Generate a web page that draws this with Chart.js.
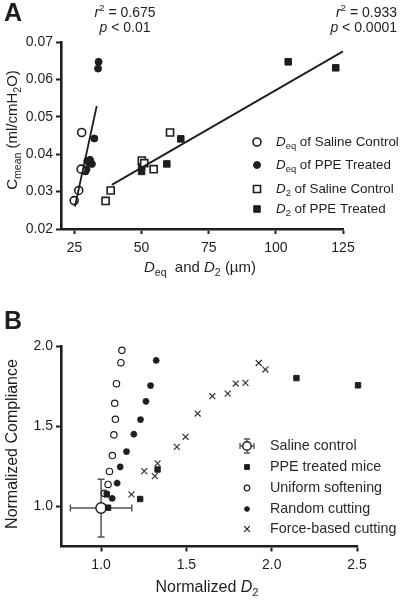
<!DOCTYPE html>
<html>
<head>
<meta charset="utf-8">
<script src="https://cdn.jsdelivr.net/npm/chart.js@4.4.1/dist/chart.umd.min.js"></script>
<style>
  body { margin: 0; background: #fff; }
  #wrap { position: relative; width: 402px; height: 601px; }
  #wrap canvas { position: absolute; left: 0; }
</style>
</head>
<body>
<div id="wrap">
  <canvas id="chartA" width="402" height="300" style="top:0"></canvas>
  <canvas id="chartB" width="402" height="301" style="top:300px"></canvas>
</div>
<script>
// ---- panel A data ----
const deqSalineX = [24.9, 26.6, 27.5, 27.7];
const deqSalineY = [0.0276, 0.0303, 0.0360, 0.0458];
const deqPpeX = [34.0, 33.8, 32.4, 29.1, 29.8, 30.6, 31.5, 30.8, 29.5];
const deqPpeY = [0.0647, 0.0629, 0.0442, 0.0354, 0.0382, 0.0378, 0.0374, 0.0385, 0.0360];
const d2SalineX = [36.6, 38.5, 50.1, 51.0, 54.5, 60.6];
const d2SalineY = [0.0275, 0.0303, 0.0383, 0.0376, 0.0360, 0.0458];
const d2PpeX = [50.0, 50.0, 59.4, 64.6, 104.6, 122.3];
const d2PpeY = [0.0354, 0.0367, 0.0374, 0.0441, 0.0647, 0.0631];
const fitDeqX = [25.2, 33.3];
const fitDeqY = [0.0260, 0.0529];
const fitD2X = [38.9, 125];
const fitD2Y = [0.0318, 0.0675];
const xTicksA = [25, 50, 75, 100, 125];
const yTicksA = [0.02, 0.03, 0.04, 0.05, 0.06, 0.07];

// ---- panel B data ----
const salineX = [1.0];
const salineY = [0.99];
const salineXErr = [0.18];
const salineYErr = [0.18];
const ppeX = [1.033, 1.041, 1.229, 1.331, 2.145, 2.506];
const ppeY = [1.075, 0.992, 1.046, 1.230, 1.800, 1.755];
const uniformX = [1.020, 1.041, 1.049, 1.066, 1.075, 1.084, 1.080, 1.090, 1.116, 1.122];
const uniformY = [1.081, 1.137, 1.218, 1.317, 1.446, 1.543, 1.643, 1.765, 1.896, 1.973];
const randomX = [1.065, 1.094, 1.112, 1.149, 1.192, 1.231, 1.263, 1.290, 1.323];
const randomY = [1.050, 1.145, 1.247, 1.342, 1.450, 1.541, 1.655, 1.753, 1.910];
const forceX = [1.178, 1.253, 1.315, 1.331, 1.444, 1.495, 1.566, 1.652, 1.742, 1.789, 1.846, 1.924, 1.963];
const forceY = [1.075, 1.220, 1.189, 1.268, 1.371, 1.434, 1.579, 1.687, 1.703, 1.766, 1.770, 1.894, 1.853];
const xTicksB = [1.0, 1.5, 2.0, 2.5];
const yTicksB = [1.0, 1.5, 2.0];

const FONT = '"Liberation Sans", Arial, sans-serif';
const INK = '#1e1e1e';

const pts = (xs, ys) => xs.map((x, i) => ({ x: x, y: ys[i] }));

// draws text made of parts: {t, i (italic), sub, sup}
function drawRich(ctx, parts, x, y, size, align, color) {
    const fontOf = p => (p.i ? 'italic ' : '') + ((p.sub || p.sup) ? size * 0.7 : size) + 'px ' + FONT;
    let total = 0;
    parts.forEach(p => { ctx.font = fontOf(p); total += ctx.measureText(p.t).width; });
    let cx = align === 'center' ? x - total / 2 : align === 'right' ? x - total : x;
    ctx.fillStyle = color || INK;
    ctx.textBaseline = 'middle';
    ctx.textAlign = 'left';
    parts.forEach(p => {
        ctx.font = fontOf(p);
        const dy = p.sub ? size * 0.32 : p.sup ? -size * 0.35 : 0;
        ctx.fillText(p.t, cx, y + dy);
        cx += ctx.measureText(p.t).width;
    });
}

function drawMarker(ctx, style, x, y, r, fill, lw) {
    ctx.save();
    ctx.strokeStyle = INK;
    ctx.fillStyle = fill;
    ctx.lineWidth = lw;
    ctx.beginPath();
    if (style === 'circle') {
        ctx.arc(x, y, r, 0, Math.PI * 2);
        ctx.fill(); ctx.stroke();
    } else if (style === 'rect') {
        const s = Math.SQRT1_2 * r;
        ctx.rect(x - s, y - s, 2 * s, 2 * s);
        ctx.fill(); ctx.stroke();
    } else if (style === 'star') {
        for (let k = 0; k < 4; k++) {
            const a = k * Math.PI / 4;
            ctx.moveTo(x - Math.cos(a) * r, y - Math.sin(a) * r);
            ctx.lineTo(x + Math.cos(a) * r, y + Math.sin(a) * r);
        }
        ctx.stroke();
    } else if (style === 'crossRot') {
        const s = Math.SQRT1_2 * r;
        ctx.moveTo(x - s, y - s); ctx.lineTo(x + s, y + s);
        ctx.moveTo(x + s, y - s); ctx.lineTo(x - s, y + s);
        ctx.stroke();
    }
    ctx.restore();
}

function axisCommon(min, max, ticks, digits, pad) {
    return {
        type: 'linear',
        min: min,
        max: max,
        afterBuildTicks: s => { s.ticks = ticks.map(v => ({ value: v })); },
        ticks: {
            color: INK,
            font: { family: FONT, size: 14 },
            padding: pad,
            callback: v => digits == null ? String(v) : Number(v).toFixed(digits)
        },
        grid: { display: true, drawOnChartArea: false, drawTicks: true, tickLength: 5, tickWidth: 2, color: INK },
        border: { display: true, width: 2.6, color: INK }
    };
}

// ---------------- Panel A ----------------
const panelAText = {
    id: 'panelAText',
    afterDraw(chart) {
        const ctx = chart.ctx;
        ctx.save();
        ctx.fillStyle = INK;
        ctx.font = 'bold 25px ' + FONT;
        ctx.textBaseline = 'middle';
        ctx.fillText('A', 4, 14);
        drawRich(ctx, [{ t: 'r', i: true }, { t: '2', sup: true }, { t: ' = 0.675' }], 125, 13, 14, 'center');
        drawRich(ctx, [{ t: 'p', i: true }, { t: ' < 0.01' }], 125, 28, 14, 'center');
        drawRich(ctx, [{ t: 'r', i: true }, { t: '2', sup: true }, { t: ' = 0.933' }], 397, 13, 14, 'right');
        drawRich(ctx, [{ t: 'p', i: true }, { t: ' < 0.0001' }], 397, 28, 14, 'right');
        // axis titles
        drawRich(ctx, [{ t: 'D', i: true }, { t: 'eq', sub: true }, { t: '  and ' }, { t: 'D', i: true }, { t: '2', sub: true }, { t: ' (µm)' }], 200, 268, 15, 'center');
        ctx.save();
        ctx.translate(13, 130);
        ctx.rotate(-Math.PI / 2);
        drawRich(ctx, [{ t: 'C' }, { t: 'mean', sub: true }, { t: ' (ml/cmH' }, { t: '2', sub: true }, { t: 'O)' }], 0, 0, 15, 'center');
        ctx.restore();
        // legend
        const rows = [
            { s: 'circle', r: 4, f: '#fff', lw: 1.6, parts: [{ t: 'D', i: true }, { t: 'eq', sub: true }, { t: ' of Saline Control' }] },
            { s: 'circle', r: 3.5, f: INK, lw: 1, parts: [{ t: 'D', i: true }, { t: 'eq', sub: true }, { t: ' of PPE Treated' }] },
            { s: 'rect', r: 5, f: '#fff', lw: 1.6, parts: [{ t: 'D', i: true }, { t: '2', sub: true }, { t: ' of Saline Control' }] },
            { s: 'rect', r: 4.6, f: INK, lw: 1, parts: [{ t: 'D', i: true }, { t: '2', sub: true }, { t: ' of PPE Treated' }] }
        ];
        const ys = [142, 165, 189, 209];
        rows.forEach((row, i) => {
            drawMarker(ctx, row.s, 257, ys[i], row.r, row.f, row.lw);
            drawRich(ctx, row.parts, 276, ys[i], 13.4, 'left');
        });
        ctx.restore();
    }
};

new Chart(document.getElementById('chartA'), {
    type: 'scatter',
    data: {
        datasets: [
            { label: 'fit Deq', data: pts(fitDeqX, fitDeqY), showLine: true, pointRadius: 0, borderColor: INK, borderWidth: 1.8, clip: false },
            { label: 'fit D2', data: pts(fitD2X, fitD2Y), showLine: true, pointRadius: 0, borderColor: INK, borderWidth: 1.8, clip: false },
            { label: 'Deq of Saline Control', data: pts(deqSalineX, deqSalineY), pointStyle: 'circle', pointRadius: 4, borderWidth: 1.6, borderColor: INK, backgroundColor: '#fff', clip: false },
            { label: 'Deq of PPE Treated', data: pts(deqPpeX, deqPpeY), pointStyle: 'circle', pointRadius: 3.5, borderWidth: 1, borderColor: INK, backgroundColor: INK, clip: false },
            { label: 'D2 of Saline Control', data: pts(d2SalineX, d2SalineY), pointStyle: 'rect', pointRadius: 5, borderWidth: 1.6, borderColor: INK, backgroundColor: '#fff', clip: false },
            { label: 'D2 of PPE Treated', data: pts(d2PpeX, d2PpeY), pointStyle: 'rect', pointRadius: 4.6, borderWidth: 1, borderColor: INK, backgroundColor: INK, clip: false }
        ]
    },
    options: {
        responsive: false,
        animation: false,
        events: [],
        layout: { padding: { left: 0, right: 59, top: 42, bottom: 0 } },
        plugins: { legend: { display: false }, tooltip: { enabled: false } },
        scales: {
            x: Object.assign(axisCommon(20, 125, xTicksA, null, 6), { afterFit: s => { s.height = 71; } }),
            y: Object.assign(axisCommon(0.02, 0.07, yTicksA, 2, 3), { afterFit: s => { s.width = 61; } })
        }
    },
    plugins: [panelAText]
});

// ---------------- Panel B ----------------
const errorBars = {
    id: 'errorBars',
    beforeDatasetsDraw(chart) {
        const ctx = chart.ctx, xs = chart.scales.x, ys = chart.scales.y;
        ctx.save();
        ctx.strokeStyle = '#555';
        ctx.lineWidth = 1.5;
        salineX.forEach((v, i) => {
            const px = xs.getPixelForValue(v), py = ys.getPixelForValue(salineY[i]);
            const x0 = xs.getPixelForValue(v - salineXErr[i]), x1 = xs.getPixelForValue(v + salineXErr[i]);
            const y0 = ys.getPixelForValue(salineY[i] - salineYErr[i]), y1 = ys.getPixelForValue(salineY[i] + salineYErr[i]);
            ctx.beginPath();
            ctx.moveTo(x0, py); ctx.lineTo(x1, py);
            ctx.moveTo(x0, py - 3.5); ctx.lineTo(x0, py + 3.5);
            ctx.moveTo(x1, py - 3.5); ctx.lineTo(x1, py + 3.5);
            ctx.moveTo(px, y0); ctx.lineTo(px, y1);
            ctx.moveTo(px - 3.5, y0); ctx.lineTo(px + 3.5, y0);
            ctx.moveTo(px - 3.5, y1); ctx.lineTo(px + 3.5, y1);
            ctx.stroke();
        });
        ctx.restore();
    }
};

const panelBText = {
    id: 'panelBText',
    afterDraw(chart) {
        const ctx = chart.ctx;
        ctx.save();
        ctx.fillStyle = INK;
        ctx.font = 'bold 25px ' + FONT;
        ctx.textBaseline = 'middle';
        ctx.fillText('B', 4, 22);
        drawRich(ctx, [{ t: 'Normalized ' }, { t: 'D', i: true }, { t: '2', sub: true }], 207, 288, 16, 'center');
        ctx.save();
        ctx.translate(13, 144);
        ctx.rotate(-Math.PI / 2);
        drawRich(ctx, [{ t: 'Normalized Compliance' }], 0, 0, 16, 'center');
        ctx.restore();
        // legend
        const ys = [146, 167, 188, 209, 229];
        // saline control icon with error bars
        ctx.strokeStyle = '#555';
        ctx.lineWidth = 1.3;
        ctx.beginPath();
        ctx.moveTo(240, ys[0]); ctx.lineTo(254, ys[0]);
        ctx.moveTo(240, ys[0] - 3); ctx.lineTo(240, ys[0] + 3);
        ctx.moveTo(254, ys[0] - 3); ctx.lineTo(254, ys[0] + 3);
        ctx.moveTo(247, ys[0] - 7); ctx.lineTo(247, ys[0] + 7);
        ctx.moveTo(244, ys[0] - 7); ctx.lineTo(250, ys[0] - 7);
        ctx.moveTo(244, ys[0] + 7); ctx.lineTo(250, ys[0] + 7);
        ctx.stroke();
        drawMarker(ctx, 'circle', 247, ys[0], 4.2, '#fff', 1.4);
        drawMarker(ctx, 'rect', 247, ys[1], 3.4, INK, 1);
        drawMarker(ctx, 'circle', 247, ys[2], 2.8, '#fff', 1.2);
        drawMarker(ctx, 'star', 247, ys[3], 2.8, INK, 1.8);
        drawMarker(ctx, 'crossRot', 247, ys[4], 4, INK, 1.2);
        const labels = ['Saline control', 'PPE treated mice', 'Uniform softening', 'Random cutting', 'Force-based cutting'];
        labels.forEach((t, i) => drawRich(ctx, [{ t: t }], 270, ys[i], 14.3, 'left', '#2a2a2a'));
        ctx.restore();
    }
};

new Chart(document.getElementById('chartB'), {
    type: 'scatter',
    data: {
        datasets: [
            { label: 'PPE treated mice', data: pts(ppeX, ppeY), pointStyle: 'rect', pointRadius: 3.8, borderWidth: 1, borderColor: INK, backgroundColor: INK, clip: false },
            { label: 'Uniform softening', data: pts(uniformX, uniformY), pointStyle: 'circle', pointRadius: 3.2, borderWidth: 1.2, borderColor: INK, backgroundColor: '#fff', clip: false },
            { label: 'Random cutting', data: pts(randomX, randomY), pointStyle: 'star', pointRadius: 3.4, borderWidth: 2, borderColor: INK, backgroundColor: INK, clip: false },
            { label: 'Force-based cutting', data: pts(forceX, forceY), pointStyle: 'crossRot', pointRadius: 4.2, borderWidth: 1.2, borderColor: '#333', clip: false },
            { label: 'Saline control', data: pts(salineX, salineY), pointStyle: 'circle', pointRadius: 5.2, borderWidth: 1.4, borderColor: INK, backgroundColor: '#fff', clip: false }
        ]
    },
    options: {
        responsive: false,
        animation: false,
        events: [],
        layout: { padding: { left: 0, right: 45, top: 46, bottom: 0 } },
        plugins: { legend: { display: false }, tooltip: { enabled: false } },
        scales: {
            x: Object.assign(axisCommon(0.765, 2.5, xTicksB, 1, 5), { afterFit: s => { s.height = 54.5; } }),
            y: Object.assign(axisCommon(0.75, 2.0, yTicksB, 1, 3), { afterFit: s => { s.width = 61; } })
        }
    },
    plugins: [errorBars, panelBText]
});
</script>
</body>
</html>
